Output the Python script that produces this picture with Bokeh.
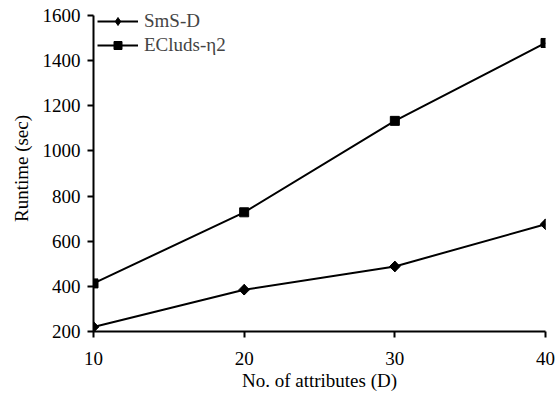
import math
from bokeh.plotting import figure
from bokeh.models import Range1d, FixedTicker, Legend, LegendItem
from bokeh.embed import file_html
from bokeh.resources import INLINE

attributes = [10, 20, 30, 40]
sms_d = [220, 385, 488, 675]
ecluds = [413, 728, 1133, 1478]
x_ticks = [10, 20, 30, 40]
y_ticks = [200, 400, 600, 800, 1000, 1200, 1400, 1600]

FONT = "'Liberation Serif', 'DejaVu Serif', serif"
FS = "19px"

p = figure(width=560, height=397, output_backend="svg", toolbar_location=None,
           x_range=Range1d(10, 40), y_range=Range1d(200, 1644),
           min_border_left=93, min_border_right=15, min_border_top=5, min_border_bottom=66)
p.outline_line_color = None
p.xgrid.grid_line_color = None
p.ygrid.grid_line_color = None
p.background_fill_color = "white"
p.border_fill_color = "white"

for ax in (p.xaxis[0], p.yaxis[0]):
    ax.axis_line_color = "black"
    ax.axis_line_width = 2
    ax.major_tick_line_color = "black"
    ax.major_tick_line_width = 2
    ax.major_tick_out = 6
    ax.major_tick_in = 0
    ax.minor_tick_line_color = None
    ax.major_label_text_font = FONT
    ax.major_label_text_font_size = FS
    ax.major_label_text_color = "black"
    ax.axis_label_text_font = FONT
    ax.axis_label_text_font_size = FS
    ax.axis_label_text_font_style = "normal"
    ax.axis_label_text_color = "black"

p.yaxis.bounds = (200, 1600)
p.xaxis.ticker = FixedTicker(ticks=x_ticks)
p.yaxis.ticker = FixedTicker(ticks=y_ticks)
p.xaxis.axis_label = "No. of attributes (D)"
p.yaxis.axis_label = "Runtime (sec)"
p.xaxis.major_label_standoff = 14
p.yaxis.major_label_standoff = 7
p.xaxis.axis_label_standoff = 2
p.yaxis.axis_label_standoff = 8

l1 = p.line(attributes, sms_d, line_color="black", line_width=2)
k1 = p.scatter(attributes, sms_d, marker="diamond", size=10.5, fill_color="black", line_color="black")
m1 = p.scatter(attributes, sms_d, marker="square", angle=math.pi / 4, size=7.5,
               fill_color="black", line_color="black")
l2 = p.line(attributes, ecluds, line_color="black", line_width=2)
m2 = p.scatter(attributes, ecluds, marker="square", size=9, fill_color="black", line_color="black")

legend = Legend(items=[LegendItem(label="SmS-D", renderers=[l1, k1]),
                       LegendItem(label="ECluds-η2", renderers=[l2, m2])],
                location=(4, 275), border_line_color=None, background_fill_alpha=0,
                label_text_font=FONT, label_text_font_size=FS,
                glyph_width=41, glyph_height=20, label_height=20, spacing=2,
                padding=0, margin=0, label_standoff=6)
p.add_layout(legend)

open("out.html", "w").write(file_html(p, INLINE))
